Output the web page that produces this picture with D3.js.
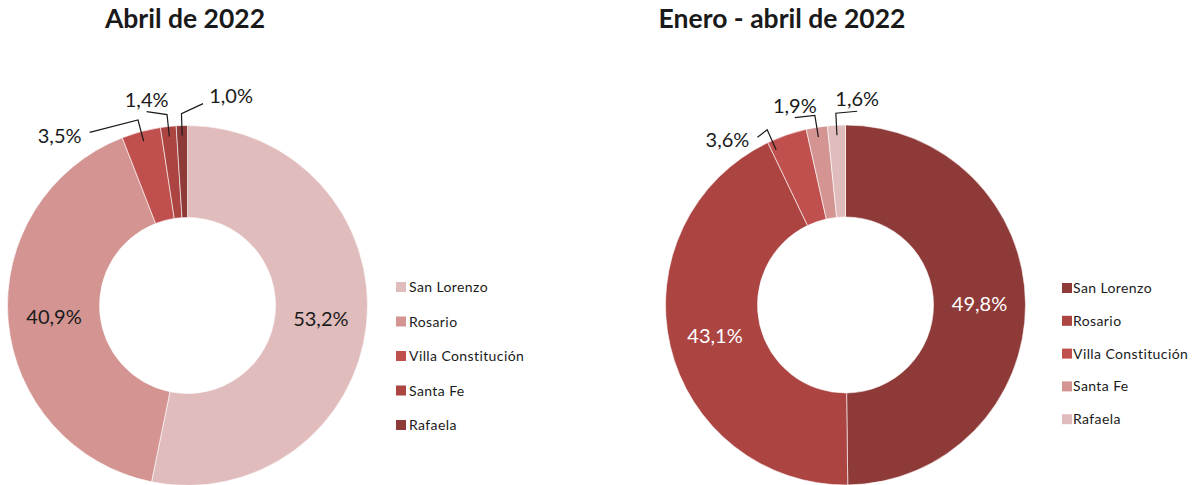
<!DOCTYPE html>
<html lang="es">
<head>
    <meta charset="UTF-8">
    <title>Abril de 2022 / Enero - abril de 2022</title>
    <script src="https://d3js.org/d3.v7.min.js"></script>
    <style>
        body {
            margin: 0;
            background: #fff;
            font-family: Lato, "Open Sans", sans-serif;
        }
        svg { display: block; }
    </style>
</head>
<body>
    <svg width="1198" height="485"></svg>
    <script>
        // Data
        const regions = ["San Lorenzo", "Rosario", "Villa Constitución", "Santa Fe", "Rafaela"];
        const aprilShares = [53.2, 40.9, 3.5, 1.4, 1.0];
        const janAprShares = [49.8, 43.1, 3.6, 1.9, 1.6];
        const aprilColors = ["#E1BCBC", "#D39492", "#C0504D", "#AC4442", "#8E3A38"];
        const janAprColors = ["#8E3A38", "#AC4442", "#C0504D", "#D39492", "#E1BCBC"];
        const titles = ["Abril de 2022", "Enero - abril de 2022"];

        const svg = d3.select("svg");
        const fmt = v => d3.format(".1f")(v).replace(".", ",") + "%";

        // layout for each donut (label nudges are hand placed like in the original)
        const charts = [
            {
                title: titles[0], values: aprilShares, colors: aprilColors,
                cx: 187.5, cy: 305.5, titleX: 185,
                insideColor: "#1a1a1a",
                legendX: 396, legendY: 282, legendStep: 34.5, legendGap: 3,
                nudges: [null, null, [-75, 28, 0], [-19, -2, 0], [50, -5, 0]]
            },
            {
                title: titles[1], values: janAprShares, colors: janAprColors,
                cx: 845.5, cy: 305, titleX: 782,
                insideColor: "#fff",
                legendX: 1062, legendY: 283, legendStep: 32.8, legendGap: 1,
                nudges: [null, null, [-51, 29, -5], [-18, 3, 0], [22, -1, 0]]
            }
        ];

        const outerR = 180, innerR = 88;

        function polar(angle, r) {
            return [Math.sin(angle) * r, -Math.cos(angle) * r];
        }

        charts.forEach(function(c) {
            const data = regions.map((name, i) => ({ name: name, v: c.values[i], color: c.colors[i], i: i }));

            const pie = d3.pie().sort(null).value(d => d.v);
            const arc = d3.arc().innerRadius(innerR).outerRadius(outerR);
            const arcs = pie(data);

            const g = svg.append("g").attr("transform", `translate(${c.cx},${c.cy})`);

            g.selectAll("path.slice")
                .data(arcs)
                .enter().append("path")
                .attr("class", "slice")
                .attr("d", arc)
                .attr("fill", d => d.data.color)
                .attr("stroke", "#fff")
                .attr("stroke-width", 0.6);

            // big slices: labels inside the ring
            g.selectAll("text.inside")
                .data(arcs.filter(d => d.data.v > 10))
                .enter().append("text")
                .attr("class", "inside")
                .attr("transform", d => `translate(${arc.centroid(d)})`)
                .attr("text-anchor", "middle")
                .attr("dy", "0.36em")
                .attr("fill", c.insideColor)
                .style("font-size", "20px")
                .text(d => fmt(d.data.v));

            // small slices: labels outside with leader lines
            arcs.filter(d => d.data.v <= 10).forEach(function(d) {
                const n = c.nudges[d.data.i];
                const mid = (d.startAngle + d.endAngle) / 2;
                const lineAngle = mid + n[2] * Math.PI / 180;
                const base = polar(mid, 205);
                const tx = base[0] + n[0], ty = base[1] + n[1];
                const end = polar(lineAngle, 170);
                const elbow = polar(lineAngle, 192);
                const halfW = 22;

                let attach;
                if (tx + halfW < elbow[0] - 4) attach = [tx + halfW + 8, ty - 3];
                else if (tx - halfW > elbow[0] + 4) attach = [tx - halfW - 6, ty + 8];
                else attach = [tx, ty + 12];

                g.append("path")
                    .attr("d", d3.line()([attach, elbow, end]))
                    .attr("fill", "none")
                    .attr("stroke", "#1a1a1a")
                    .attr("stroke-width", 1.2);

                g.append("text")
                    .attr("x", tx)
                    .attr("y", ty)
                    .attr("dy", "0.36em")
                    .attr("text-anchor", "middle")
                    .attr("fill", "#1a1a1a")
                    .style("font-size", "20px")
                    .text(fmt(d.data.v));
            });

            // title
            svg.append("text")
                .attr("x", c.titleX)
                .attr("y", 28)
                .attr("text-anchor", "middle")
                .attr("fill", "#1a1a1a")
                .style("font-size", "26.5px")
                .style("font-weight", "bold")
                .text(c.title);

            // legend
            const legend = svg.append("g")
                .selectAll("g")
                .data(data)
                .enter().append("g")
                .attr("transform", (d, i) => `translate(${c.legendX},${c.legendY + i * c.legendStep})`);

            legend.append("rect")
                .attr("width", 10)
                .attr("height", 10)
                .attr("fill", d => d.color);

            legend.append("text")
                .attr("x", 10 + c.legendGap)
                .attr("y", 5)
                .attr("dy", "0.36em")
                .attr("fill", "#1a1a1a")
                .style("font-size", "14px")
                .style("letter-spacing", "0.4px")
                .text(d => d.name);
        });
    </script>
</body>
</html>
